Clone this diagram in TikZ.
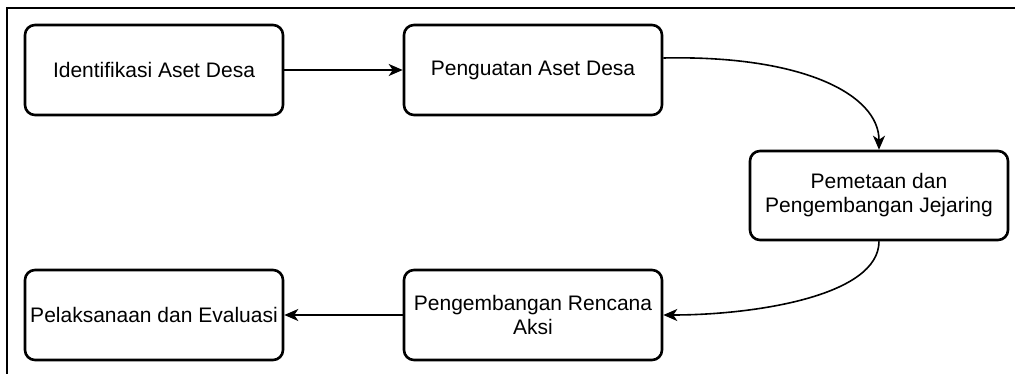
\documentclass[tikz,border=0pt]{standalone}
\usepackage{fontspec}
\setmainfont{Liberation Sans}
\usetikzlibrary{arrows.meta}
\begin{document}
\begin{tikzpicture}[x=1pt,y=-1pt,
  box/.style={draw=black, line width=2.6pt, rounded corners=10pt, minimum width=258pt, minimum height=90pt, inner sep=0pt, align=center, font=\fontsize{21}{24}\selectfont},
  conn/.style={draw=black, line width=1.6pt, -{Stealth[length=14pt,width=12pt,inset=4pt]}}]
\useasboundingbox (0,0) rectangle (1015,374);
\clip (0,0) rectangle (1015,374);
\fill[white] (0,0) rectangle (1015,374);
\draw[line width=1.4pt] (7,8) rectangle (1040,400);
\node[box] (b1) at (154,70) {Identifikasi Aset Desa};
\node[box] (b2) at (533,70) {Penguatan Aset Desa};
\node[box, minimum height=89pt] (b3) at (879,195.5) {Pemetaan dan\\Pengembangan Jejaring};
\node[box] (b4) at (533,315) {Pengembangan Rencana\\Aksi};
\node[box] (b5) at (154,315) {Pelaksanaan dan Evaluasi};
\draw[conn] (b1.east) -- (b2.west);
\draw[conn] ([yshift=12pt]b2.east) .. controls +(140pt,3pt) and +(0,55pt) .. (b3.north);
\draw[conn] (b3.south) .. controls +(0,-55pt) and +(90pt,0) .. (b4.east);
\draw[conn] (b4.west) -- (b5.east);
\end{tikzpicture}
\end{document}
